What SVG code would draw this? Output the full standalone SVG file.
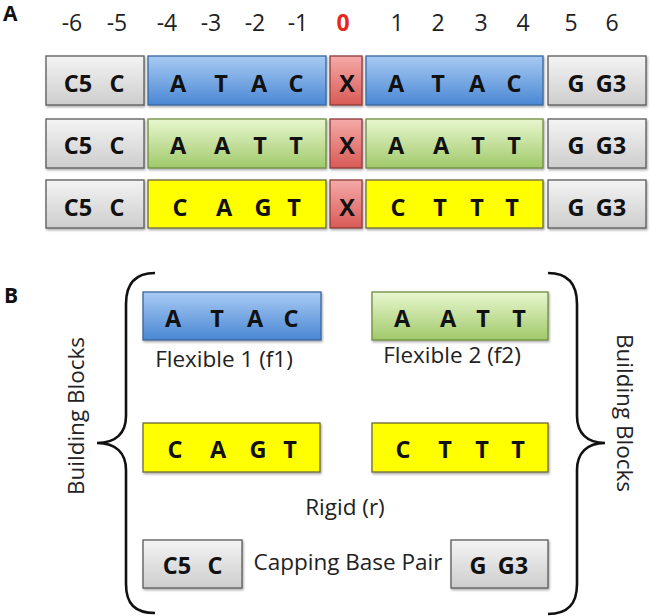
<svg xmlns="http://www.w3.org/2000/svg" width="650" height="616" viewBox="0 0 650 616">
<defs>
<linearGradient id="gGray" x1="0" y1="0" x2="0" y2="1"><stop offset="0" stop-color="#f4f4f4"/><stop offset="1" stop-color="#cdcdcd"/></linearGradient>
<linearGradient id="gBlue" x1="0" y1="0" x2="0" y2="1"><stop offset="0" stop-color="#a8cbf3"/><stop offset="1" stop-color="#4a87d4"/></linearGradient>
<linearGradient id="gGreen" x1="0" y1="0" x2="0" y2="1"><stop offset="0" stop-color="#e8f7cf"/><stop offset="1" stop-color="#a0c96a"/></linearGradient>
<linearGradient id="gRed" x1="0" y1="0" x2="0" y2="1"><stop offset="0" stop-color="#f5aaa8"/><stop offset="1" stop-color="#d85a56"/></linearGradient>
<filter id="sh" x="-10%" y="-10%" width="130%" height="140%"><feDropShadow dx="1" dy="1.5" stdDeviation="1" flood-color="#000" flood-opacity="0.35"/></filter>
</defs>
<style>
.box{stroke-width:1.3;filter:url(#sh)}
.gray{fill:url(#gGray);stroke:#5a5a5a}
.blue{fill:url(#gBlue);stroke:#3a669c}
.green{fill:url(#gGreen);stroke:#6f8c3e}
.red{fill:url(#gRed);stroke:#8e3b39}
.yellow{fill:#ffff00;stroke:#6b6b3a}
.b{font-family:"Open Sans","DejaVu Sans",sans-serif;font-weight:bold;font-size:23.5px;fill:#111;text-anchor:middle}
.n{font-family:"Open Sans","DejaVu Sans",sans-serif;font-size:23px;fill:#222;text-anchor:middle}
.t{font-family:"Open Sans","DejaVu Sans",sans-serif;font-size:22.5px;fill:#222;text-anchor:middle}
.lbl{font-family:"Open Sans","DejaVu Sans",sans-serif;font-weight:bold;font-size:21px;fill:#111}
.brace{fill:none;stroke:#111;stroke-width:2.6}
</style>
<rect width="650" height="616" fill="#fff"/>

<text class="lbl" x="3" y="21">A</text>
<g id="numbers">
<text class="n" x="72" y="31">-6</text><text class="n" x="117" y="31">-5</text>
<text class="n" x="167" y="31">-4</text><text class="n" x="211" y="31">-3</text>
<text class="n" x="255" y="31">-2</text><text class="n" x="298" y="31">-1</text>
<text class="n" x="343" y="31" style="fill:#e8261c;font-weight:bold">0</text>
<text class="n" x="397" y="31">1</text><text class="n" x="438" y="31">2</text>
<text class="n" x="481" y="31">3</text><text class="n" x="523" y="31">4</text>
<text class="n" x="571" y="31">5</text><text class="n" x="612" y="31">6</text>
</g>

<g id="row1">
<rect class="box gray" x="46" y="56" width="98" height="49"/>
<text class="b" x="78" y="92">C5</text><text class="b" x="117" y="92">C</text>
<rect class="box blue" x="148" y="56" width="178" height="49"/>
<text class="b" x="178" y="92">A</text><text class="b" x="221" y="92">T</text><text class="b" x="259" y="92">A</text><text class="b" x="296" y="92">C</text>
<rect class="box red" x="330" y="56" width="32" height="49"/>
<text class="b" x="347" y="92">X</text>
<rect class="box blue" x="366" y="56" width="177" height="49"/>
<text class="b" x="396" y="92">A</text><text class="b" x="438" y="92">T</text><text class="b" x="477" y="92">A</text><text class="b" x="514" y="92">C</text>
<rect class="box gray" x="548" y="56" width="98" height="49"/>
<text class="b" x="576" y="92">G</text><text class="b" x="611" y="92">G3</text>
</g>

<g id="row2">
<rect class="box gray" x="46" y="119" width="98" height="49"/>
<text class="b" x="78" y="154">C5</text><text class="b" x="117" y="154">C</text>
<rect class="box green" x="148" y="119" width="178" height="49"/>
<text class="b" x="178" y="154">A</text><text class="b" x="222" y="154">A</text><text class="b" x="260" y="154">T</text><text class="b" x="296" y="154">T</text>
<rect class="box red" x="330" y="119" width="32" height="49"/>
<text class="b" x="347" y="154">X</text>
<rect class="box green" x="366" y="119" width="177" height="49"/>
<text class="b" x="396" y="154">A</text><text class="b" x="441" y="154">A</text><text class="b" x="478" y="154">T</text><text class="b" x="514" y="154">T</text>
<rect class="box gray" x="548" y="119" width="98" height="49"/>
<text class="b" x="576" y="154">G</text><text class="b" x="611" y="154">G3</text>
</g>

<g id="row3">
<rect class="box gray" x="46" y="180" width="98" height="48"/>
<text class="b" x="78" y="216">C5</text><text class="b" x="117" y="216">C</text>
<rect class="box yellow" x="148" y="180" width="178" height="48"/>
<text class="b" x="180" y="216">C</text><text class="b" x="224" y="216">A</text><text class="b" x="263" y="216">G</text><text class="b" x="294" y="216">T</text>
<rect class="box red" x="330" y="180" width="32" height="48"/>
<text class="b" x="347" y="216">X</text>
<rect class="box yellow" x="366" y="180" width="177" height="48"/>
<text class="b" x="398" y="216">C</text><text class="b" x="440" y="216">T</text><text class="b" x="477" y="216">T</text><text class="b" x="512" y="216">T</text>
<rect class="box gray" x="548" y="180" width="98" height="48"/>
<text class="b" x="576" y="216">G</text><text class="b" x="611" y="216">G3</text>
</g>

<text class="lbl" x="4" y="303">B</text>

<g id="braces">
<path class="brace" d="M155,273 C135,273 126,284 126,304 L126,416 C126,433 116,443 97,443 C116,443 126,453 126,470 L126,584 C126,604 135,613 155,613"/>
<path class="brace" d="M548,273 C568,273 577,284 577,304 L577,416 C577,433 587,443 605,443 C587,443 577,453 577,470 L577,584 C577,604 568,614 548,614"/>
</g>
<text class="t" transform="translate(84,416) rotate(-90)">Building Blocks</text>
<text class="t" transform="translate(617,413) rotate(90)">Building Blocks</text>

<g id="f1">
<rect class="box blue" x="143" y="292" width="178" height="48"/>
<text class="b" x="173" y="327">A</text><text class="b" x="217" y="327">T</text><text class="b" x="255" y="327">A</text><text class="b" x="291" y="327">C</text>
<text class="t" x="224" y="367">Flexible 1 (f1)</text>
</g>
<g id="f2">
<rect class="box green" x="372" y="292" width="176" height="48"/>
<text class="b" x="402" y="327">A</text><text class="b" x="448" y="327">A</text><text class="b" x="483" y="327">T</text><text class="b" x="519" y="327">T</text>
<text class="t" x="452" y="363">Flexible 2 (f2)</text>
</g>
<g id="rigid">
<rect class="box yellow" x="143" y="423" width="177" height="49"/>
<text class="b" x="175" y="458">C</text><text class="b" x="218" y="458">A</text><text class="b" x="258" y="458">G</text><text class="b" x="290" y="458">T</text>
<rect class="box yellow" x="372" y="423" width="176" height="49"/>
<text class="b" x="403" y="458">C</text><text class="b" x="445" y="458">T</text><text class="b" x="482" y="458">T</text><text class="b" x="518" y="458">T</text>
<text class="t" x="345" y="515">Rigid (r)</text>
</g>
<g id="capping">
<rect class="box gray" x="143" y="540" width="99" height="48"/>
<text class="b" x="177" y="574">C5</text><text class="b" x="215" y="574">C</text>
<rect class="box gray" x="451" y="540" width="97" height="48"/>
<text class="b" x="478" y="574">G</text><text class="b" x="513" y="574">G3</text>
<text class="t" x="348" y="570">Capping Base Pair</text>
</g>
</svg>
